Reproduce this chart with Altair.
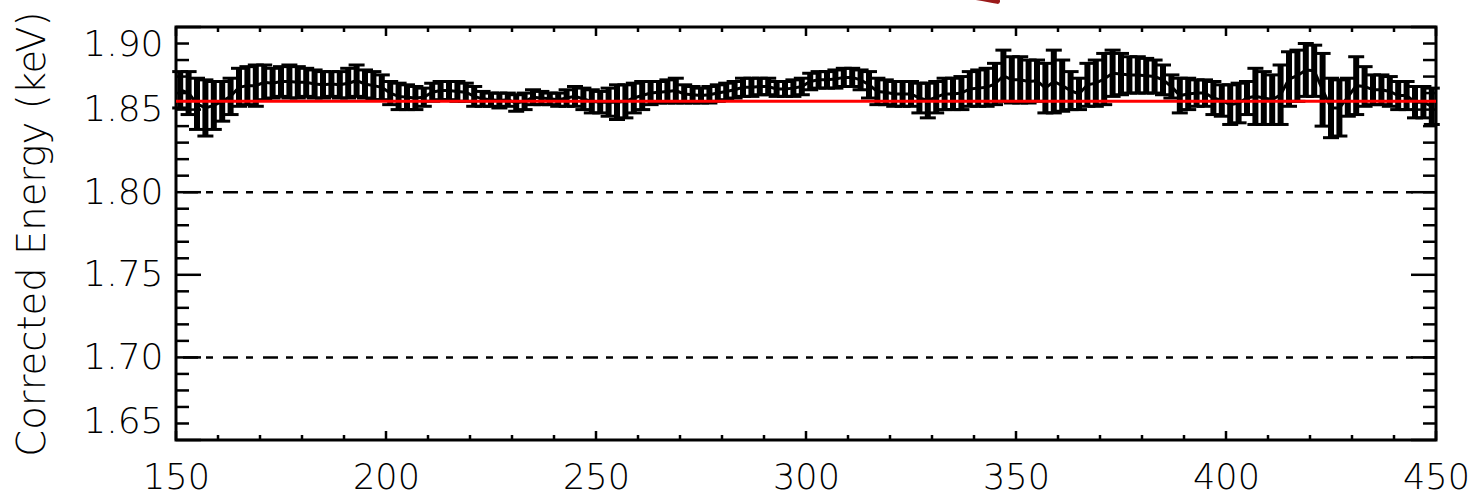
import altair as alt
import numpy as np
import pandas as pd

# Bin centres (channel) and the upper / lower ends of each error bar (keV)
channel = list(range(151, 450, 2))

energy_hi = [
    1.873, 1.873, 1.869, 1.868, 1.867, 1.867, 1.869, 1.875, 1.876, 1.877,
    1.877, 1.875, 1.876, 1.877, 1.876, 1.875, 1.874, 1.873, 1.873, 1.873,
    1.875, 1.877, 1.874, 1.873, 1.871, 1.867, 1.866, 1.865, 1.864, 1.863,
    1.866, 1.867, 1.867, 1.867, 1.866, 1.864, 1.861, 1.860, 1.860, 1.860,
    1.859, 1.860, 1.862, 1.861, 1.860, 1.860, 1.862, 1.864, 1.863, 1.862,
    1.861, 1.863, 1.865, 1.865, 1.866, 1.867, 1.867, 1.867, 1.868, 1.869,
    1.865, 1.864, 1.863, 1.864, 1.865, 1.866, 1.867, 1.869, 1.869, 1.869,
    1.869, 1.867, 1.867, 1.868, 1.869, 1.872, 1.873, 1.873, 1.874, 1.875,
    1.875, 1.874, 1.873, 1.869, 1.868, 1.867, 1.867, 1.867, 1.866, 1.866,
    1.867, 1.869, 1.869, 1.870, 1.873, 1.874, 1.875, 1.878, 1.886, 1.882,
    1.882, 1.880, 1.880, 1.878, 1.886, 1.880, 1.873, 1.869, 1.878, 1.880,
    1.884, 1.886, 1.884, 1.882, 1.882, 1.881, 1.880, 1.877, 1.871, 1.869,
    1.869, 1.868, 1.868, 1.867, 1.865, 1.865, 1.866, 1.867, 1.875, 1.873,
    1.871, 1.877, 1.885, 1.886, 1.890, 1.889, 1.884, 1.869, 1.868, 1.869,
    1.882, 1.876, 1.871, 1.871, 1.870, 1.867, 1.867, 1.864, 1.864, 1.863,
]

energy_lo = [
    1.851, 1.847, 1.838, 1.834, 1.838, 1.843, 1.847, 1.852, 1.853, 1.852,
    1.856, 1.857, 1.858, 1.857, 1.857, 1.858, 1.857, 1.857, 1.858, 1.857,
    1.857, 1.858, 1.857, 1.856, 1.856, 1.853, 1.850, 1.850, 1.850, 1.852,
    1.855, 1.856, 1.856, 1.855, 1.855, 1.852, 1.852, 1.852, 1.851, 1.852,
    1.849, 1.850, 1.853, 1.853, 1.853, 1.852, 1.852, 1.852, 1.850, 1.848,
    1.848, 1.846, 1.844, 1.845, 1.848, 1.850, 1.853, 1.854, 1.854, 1.854,
    1.854, 1.854, 1.854, 1.854, 1.855, 1.856, 1.857, 1.858, 1.858, 1.859,
    1.859, 1.858, 1.858, 1.858, 1.859, 1.862, 1.863, 1.863, 1.863, 1.864,
    1.864, 1.862, 1.857, 1.853, 1.853, 1.852, 1.852, 1.852, 1.848, 1.845,
    1.848, 1.850, 1.850, 1.850, 1.852, 1.852, 1.852, 1.853, 1.855, 1.854,
    1.854, 1.854, 1.855, 1.848, 1.848, 1.849, 1.850, 1.850, 1.852, 1.852,
    1.853, 1.858, 1.859, 1.860, 1.860, 1.860, 1.860, 1.859, 1.857, 1.848,
    1.850, 1.852, 1.852, 1.847, 1.846, 1.841, 1.842, 1.847, 1.841, 1.841,
    1.841, 1.841, 1.852, 1.855, 1.858, 1.858, 1.840, 1.833, 1.834, 1.846,
    1.847, 1.852, 1.853, 1.853, 1.852, 1.850, 1.850, 1.845, 1.845, 1.841,
]

reference_level = [1.855]
limit_levels = [1.80, 1.70]

x_label_ticks = [150, 200, 250, 300, 350, 400, 450]
x_minor_ticks = [v for v in range(160, 450, 10) if v % 50 != 0]
y_label_ticks = [1.65, 1.70, 1.75, 1.80, 1.85, 1.90]
y_minor_ticks = [round(1.65 + 0.01 * i, 2) for i in range(1, 25) if i % 5 != 0]

# fragment of an annotation stroke above the frame
marker_x = [339.0, 342.0, 344.5, 345.6]
marker_y = [1.9185, 1.9172, 1.9160, 1.9155]

W, H = 1260, 413
FONT = "DejaVu Sans"
WEIGHT = 200

xs = alt.Scale(domain=[150, 450], nice=False, zero=False)
ys = alt.Scale(domain=[1.65, 1.90], nice=False, zero=False)

# one axis definition shared by every layer; ticks are drawn inward separately
x_axis = alt.Axis(
    values=x_label_ticks, format="d", ticks=False, domain=False, grid=False,
    labelFont=FONT, labelFontSize=35, labelFontWeight=WEIGHT, labelColor="black",
    labelPadding=20, labelFlush=False, labelOverlap=False,
    title=None)
y_axis = alt.Axis(
    values=y_label_ticks, format=".2f", ticks=False, domain=False, grid=False,
    labelFont=FONT, labelFontSize=36, labelFontWeight=WEIGHT, labelColor="black",
    labelPadding=13, labelFlush=True, labelOverlap=False,
    title="Corrected Energy (keV)", titleFont=FONT, titleFontSize=38.5,
    titleFontWeight=WEIGHT, titleColor="black", titleAngle=270,
    titleX=-132, titleY=H / 2, titleAlign="center", titleBaseline="alphabetic")


def X(field):
    return alt.X(field, scale=xs, axis=x_axis)


def Y(field):
    return alt.Y(field, scale=ys, axis=y_axis)


bars = pd.DataFrame({"channel": channel, "lo": energy_lo, "hi": energy_hi})
bars["mid"] = (bars["lo"] + bars["hi"]) / 2

base = alt.Chart(bars)

limits = alt.Chart(pd.DataFrame({"level": limit_levels})).mark_rule(
    color="black", strokeWidth=2.5, strokeDash=[15, 10, 7, 8], strokeDashOffset=2
).encode(y=Y("level:Q"))

stems = base.mark_rule(color="black", strokeWidth=6).encode(
    x=X("channel:Q"), y=Y("lo:Q"), y2="hi:Q")
caps_hi = base.mark_tick(color="black", orient="horizontal", size=16, thickness=3,
                         opacity=1).encode(x=X("channel:Q"), y=Y("hi:Q"))
caps_lo = base.mark_tick(color="black", orient="horizontal", size=16, thickness=3,
                         opacity=1).encode(x=X("channel:Q"), y=Y("lo:Q"))
centre = base.mark_line(color="black", strokeWidth=3).encode(
    x=X("channel:Q"), y=Y("mid:Q"))

ref = alt.Chart(pd.DataFrame({"level": reference_level})).mark_rule(
    color="#ff0000", strokeWidth=3
).encode(y=Y("level:Q"))


def xticks(values, length):
    src = alt.Chart(pd.DataFrame({"t": values}))
    top = src.mark_rule(color="black", strokeWidth=2.5).encode(
        x=X("t:Q"), y=alt.value(0), y2=alt.value(length))
    bottom = src.mark_rule(color="black", strokeWidth=2.5).encode(
        x=X("t:Q"), y=alt.value(H), y2=alt.value(H - length))
    return [top, bottom]


def yticks(values, length):
    src = alt.Chart(pd.DataFrame({"t": values}))
    left = src.mark_rule(color="black", strokeWidth=2.5).encode(
        y=Y("t:Q"), x=alt.value(0), x2=alt.value(length))
    right = src.mark_rule(color="black", strokeWidth=2.5).encode(
        y=Y("t:Q"), x=alt.value(W), x2=alt.value(W - length))
    return [left, right]


marker = alt.Chart(pd.DataFrame({"x": marker_x, "y": marker_y})).mark_line(
    color="#9b1a1a", strokeWidth=5, strokeCap="round", clip=False
).encode(x=X("x:Q"), y=Y("y:Q"))

layers = [limits, stems, caps_hi, caps_lo, centre, ref]
layers += xticks(x_label_ticks, 9) + xticks(x_minor_ticks, 5)
layers += yticks(y_label_ticks, 25) + yticks(y_minor_ticks, 13)
layers += [marker]

chart = alt.layer(*layers).properties(
    width=W,
    height=H,
    autosize=alt.AutoSizeParams(type="none"),
    padding={"left": 176, "top": 27, "right": 38, "bottom": 57},
    background="white",
).configure_view(stroke="black", strokeWidth=3)

chart.save("out.html", embed_options={"renderer": "svg", "actions": False})
